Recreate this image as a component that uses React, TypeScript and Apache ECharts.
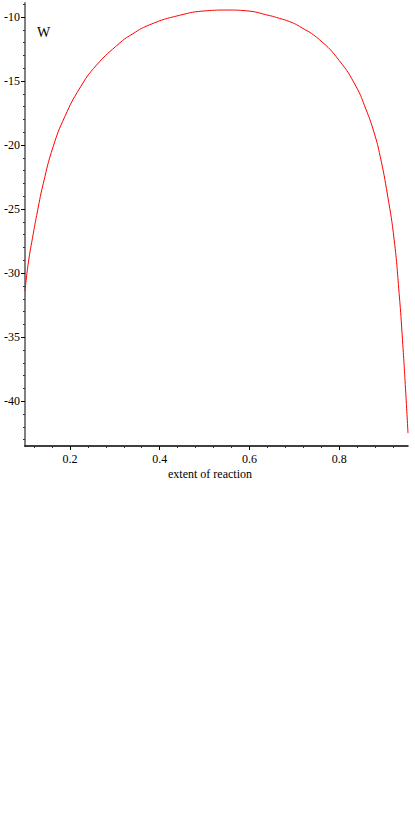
import React, { useEffect, useRef } from "react";
import * as echarts from "echarts";

const extent = [0.1, 0.1074, 0.1185, 0.1259, 0.1407, 0.1629, 0.1889, 0.2222, 0.2593, 0.3111, 0.3333, 0.3778, 0.4444, 0.5037, 0.55, 0.5926, 0.6444, 0.6667, 0.6889, 0.7111, 0.7556, 0.8, 0.837, 0.8593, 0.8778, 0.8911, 0.9074, 0.9222, 0.9333, 0.9407, 0.9481, 0.953];
const W = [-31.4, -29.2, -26.9, -25.5, -23.0, -20.1, -17.76, -15.54, -13.75, -12.02, -11.45, -10.6, -9.86, -9.51, -9.45, -9.51, -9.88, -10.1, -10.35, -10.72, -11.76, -13.4, -15.4, -17.2, -19.06, -20.89, -23.9, -27.4, -31.6, -35.2, -39.4, -42.5];

const xMajor = [0.2, 0.4, 0.6, 0.8];
const xMinor = [0.12, 0.16, 0.24, 0.28, 0.32, 0.36, 0.44, 0.48, 0.52, 0.56, 0.64, 0.68, 0.72, 0.76, 0.84, 0.88, 0.92];
const yMajor = [-40, -35, -30, -25, -20, -15, -10];
const yMinor: number[] = [];
for (let v = -43; v <= -9; v++) if (v % 5 !== 0) yMinor.push(v);

const X_MIN = 0.1, X_MAX = 0.953, Y_MIN = -43.5, Y_MAX = -8.9;
const FONT = "Liberation Serif";

export default function App() {
  const ref = useRef<HTMLDivElement>(null);
  useEffect(() => {
    const chart = echarts.init(ref.current!, null, { renderer: "svg" });
    const common = { min: X_MIN, max: X_MAX, type: "value" as const };
    const ycommon = { min: Y_MIN, max: Y_MAX, type: "value" as const };
    chart.setOption({
      animation: false,
      grid: { left: 25, right: 7, top: 3, bottom: 384, containLabel: false },
      xAxis: [
        {
          ...common,
          position: "bottom",
          axisLine: { show: true, onZero: false, lineStyle: { color: "#000", width: 1.5 } },
          axisTick: { show: true, customValues: xMajor, length: 4, lineStyle: { color: "#000" } },
          axisLabel: { show: true, customValues: xMajor, margin: 7, color: "#000", fontFamily: FONT, fontSize: 12, formatter: (v: number) => v.toFixed(1) },
          splitLine: { show: false },
        },
        {
          ...common,
          position: "bottom",
          axisLine: { show: false, onZero: false },
          axisTick: { show: true, customValues: xMinor, length: 2, lineStyle: { color: "#333" } },
          axisLabel: { show: false },
          splitLine: { show: false },
        },
      ],
      yAxis: [
        {
          ...ycommon,
          position: "left",
          axisLine: { show: true, onZero: false, lineStyle: { color: "#808080", width: 2 } },
          axisTick: { show: true, customValues: yMajor, length: 4, lineStyle: { color: "#000" } },
          axisLabel: { show: true, customValues: yMajor, margin: 5, color: "#000", fontFamily: FONT, fontSize: 12 },
          splitLine: { show: false },
        },
        {
          ...ycommon,
          position: "left",
          axisLine: { show: false, onZero: false },
          axisTick: { show: true, customValues: yMinor, length: 2, lineStyle: { color: "#333" } },
          axisLabel: { show: false },
          splitLine: { show: false },
        },
      ],
      graphic: [
        { type: "text", left: 37, top: 25, style: { text: "W", fontFamily: FONT, fontSize: 14, fill: "#000" } },
        { type: "text", x: 210, y: 474, style: { text: "extent of reaction", fontFamily: FONT, fontSize: 12, fill: "#000", textAlign: "center", textVerticalAlign: "middle" } },
      ],
      series: [
        {
          type: "line",
          data: extent.map((x, i) => [x, W[i]]),
          showSymbol: false,
          smooth: 0.5,
          lineStyle: { color: "#ff0000", width: 1 },
          clip: false,
        },
      ],
    });
    return () => chart.dispose();
  }, []);
  return <div ref={ref} style={{ position: "fixed", left: 0, top: 0, width: 415, height: 830, background: "#fff" }} />;
}
